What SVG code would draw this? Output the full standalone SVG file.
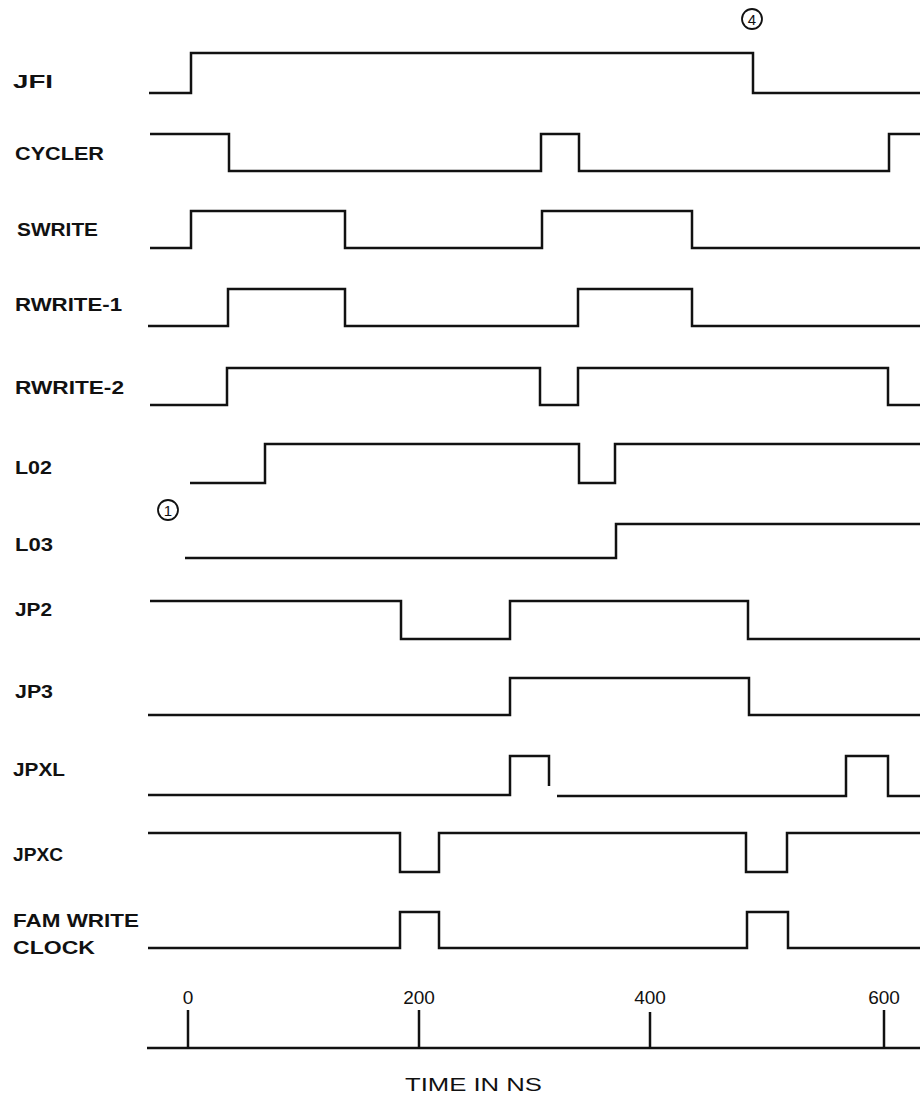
<svg xmlns="http://www.w3.org/2000/svg" width="920" height="1098" viewBox="0 0 920 1098">
<style>
.bg{fill:#ffffff}
.sig{fill:none;stroke:#111;stroke-width:2.5;stroke-linejoin:miter;stroke-linecap:butt}
.lbl{font-family:"Liberation Sans",Arial,sans-serif;font-size:19px;font-weight:bold;fill:#111}
.num{font-family:"Liberation Sans",Arial,sans-serif;font-size:19px;fill:#111;text-anchor:middle}
.ttl{font-family:"Liberation Sans",Arial,sans-serif;font-size:18px;fill:#111}
.mark{fill:none;stroke:#111;stroke-width:1.8}
.marktxt{font-family:"Liberation Sans",Arial,sans-serif;font-size:15px;fill:#111;text-anchor:middle}
</style>
<rect class="bg" x="0" y="0" width="920" height="1098"/>
<g id="labels">
<text class="lbl" x="13" y="88" textLength="40" lengthAdjust="spacingAndGlyphs">JFI</text>
<text class="lbl" x="15" y="160" textLength="89" lengthAdjust="spacingAndGlyphs">CYCLER</text>
<text class="lbl" x="17" y="236" textLength="81" lengthAdjust="spacingAndGlyphs">SWRITE</text>
<text class="lbl" x="15" y="311" textLength="107" lengthAdjust="spacingAndGlyphs">RWRITE-1</text>
<text class="lbl" x="15" y="394" textLength="109" lengthAdjust="spacingAndGlyphs">RWRITE-2</text>
<text class="lbl" x="15" y="474" textLength="37" lengthAdjust="spacingAndGlyphs">L02</text>
<text class="lbl" x="15" y="551" textLength="38" lengthAdjust="spacingAndGlyphs">L03</text>
<text class="lbl" x="15" y="616" textLength="37" lengthAdjust="spacingAndGlyphs">JP2</text>
<text class="lbl" x="15" y="698" textLength="38" lengthAdjust="spacingAndGlyphs">JP3</text>
<text class="lbl" x="13" y="776" textLength="52" lengthAdjust="spacingAndGlyphs">JPXL</text>
<text class="lbl" x="13" y="861" textLength="50" lengthAdjust="spacingAndGlyphs">JPXC</text>
<text class="lbl" x="13" y="927" textLength="126" lengthAdjust="spacingAndGlyphs">FAM WRITE</text>
<text class="lbl" x="13" y="954" textLength="82" lengthAdjust="spacingAndGlyphs">CLOCK</text>
</g>
<g id="markers">
<g id="mark4"><circle class="mark" cx="752" cy="19" r="10"/><text class="marktxt" x="752" y="24.5">4</text></g>
<g id="mark1"><circle class="mark" cx="168" cy="510" r="10"/><text class="marktxt" x="168" y="515.5">1</text></g>
</g>
<g id="connectors">
<polyline id="JFI" class="sig" points="149,93 191,93 191,53 753,53 753,93 920,93"/>
<polyline id="CYCLER" class="sig" points="150,134 229,134 229,171 541,171 541,134 579,134 579,171 889,171 889,134 920,134"/>
<polyline id="SWRITE" class="sig" points="150,248 191,248 191,211 345,211 345,248 542,248 542,211 692,211 692,248 920,248"/>
<polyline id="RWRITE1" class="sig" points="148,326 228,326 228,289 345,289 345,326 578,326 578,289 692,289 692,326 920,326"/>
<polyline id="RWRITE2" class="sig" points="150,405 227,405 227,368 540,368 540,405 578,405 578,368 888,368 888,405 920,405"/>
<polyline id="L02" class="sig" points="190,483 265,483 265,444 579,444 579,483 615,483 615,444 920,444"/>
<polyline id="L03" class="sig" points="185,558 616,558 616,524 920,524"/>
<polyline id="JP2" class="sig" points="150,601 401,601 401,639 510,639 510,601 748,601 748,639 920,639"/>
<polyline id="JP3" class="sig" points="148,715 510,715 510,678 749,678 749,715 920,715"/>
<polyline id="JPXL" class="sig" points="148,795 510,795 510,756 549,756 549,786"/>
<polyline id="JPXL2" class="sig" points="557,796 846,796 846,756 888,756 888,796 920,796"/>
<polyline id="JPXC" class="sig" points="148,833 400,833 400,872 439,872 439,833 746,833 746,872 787,872 787,833 920,833"/>
<polyline id="FAMCLK" class="sig" points="148,948 400,948 400,912 439,912 439,948 747,948 747,912 788,912 788,948 920,948"/>
</g>
<g id="axis">
<line class="sig" x1="147" y1="1048" x2="920" y2="1048"/>
<line class="sig" x1="188" y1="1010" x2="188" y2="1048"/>
<line class="sig" x1="419" y1="1010" x2="419" y2="1048"/>
<line class="sig" x1="650" y1="1012" x2="650" y2="1048"/>
<line class="sig" x1="884" y1="1010" x2="884" y2="1048"/>
<text class="num" x="188" y="1004">0</text>
<text class="num" x="419" y="1004">200</text>
<text class="num" x="650" y="1004">400</text>
<text class="num" x="884" y="1004">600</text>
<text class="ttl" x="405" y="1091" textLength="137" lengthAdjust="spacingAndGlyphs">TIME IN NS</text>
</g>
</svg>
